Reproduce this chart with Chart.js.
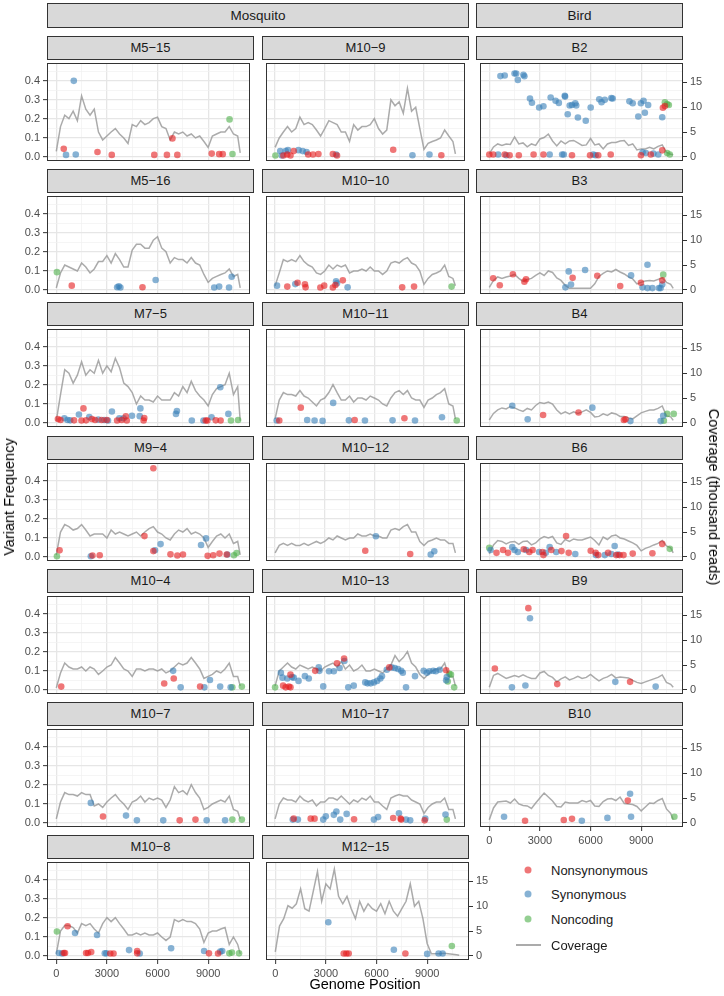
<!DOCTYPE html>
<html>
<head>
<meta charset="utf-8">
<script src="https://cdn.jsdelivr.net/npm/chart.js@4.4.0/dist/chart.umd.min.js"></script>
<style>
  html,body{margin:0;padding:0;background:#fff;}
  #root{position:relative;width:724px;height:996px;overflow:hidden;background:#fff;font-family:"Liberation Sans",Arial,Helvetica,sans-serif;}
  .strip{position:absolute;box-sizing:border-box;background:#d9d9d9;border:1px solid #333;color:#1a1a1a;font-size:13px;text-align:center;}
  .gstrip{font-size:13.5px;}
  .title{position:absolute;white-space:nowrap;color:#000;font-size:14.5px;}
  .leg{position:absolute;white-space:nowrap;color:#1a1a1a;font-size:13px;transform:translateY(-50%);}
  .dot{position:absolute;width:7px;height:7px;border-radius:50%;transform:translate(-50%,-50%);}
  canvas{position:absolute;}
</style>
</head>
<body>
<div id="root"></div>
<script>
// ---------------- DATA ----------------
// coverage sample positions (genome position)
const COV_POS = [0,250,500,750,1000,1250,1500,1750,2000,2250,2500,2750,3000,3250,3500,3750,4000,4250,4500,4750,5000,5250,5500,5750,6000,6250,6500,6750,7000,7250,7500,7750,8000,8250,8500,8750,9000,9250,9500,9750,10000,10250,10500,10750,10900];
// coverage (thousand reads) per sample
const COV_M5_15 = [1.1,6.1,8.4,7.7,9.2,7.3,12.3,9.6,8.4,9.6,5.0,3.4,4.2,5.0,5.7,4.6,3.8,2.7,6.5,6.1,7.3,6.5,6.9,7.7,8.0,6.1,5.7,3.4,5.0,4.6,5.0,4.2,4.6,3.8,4.2,3.1,1.9,4.2,4.6,5.0,5.0,6.1,4.6,4.2,0.8];
const COV_M5_16 = [0.4,3.4,5.0,4.6,4.2,3.8,5.4,4.6,3.4,4.2,5.7,5.7,6.9,5.4,7.3,6.1,4.6,4.6,8.0,9.2,9.2,8.4,8.4,10.0,10.7,8.4,7.7,5.4,6.5,6.1,6.1,5.4,6.5,5.4,5.0,3.1,1.5,2.3,2.7,3.1,3.4,4.2,2.7,3.1,0.4];
const COV_M7_5 = [0.4,5.7,10.7,10.0,8.0,9.6,12.3,9.6,10.7,10.0,12.6,10.0,11.5,10.3,13.0,11.1,8.0,7.3,6.1,3.8,5.4,4.6,4.6,4.2,5.4,4.6,4.6,4.6,6.1,5.4,7.3,6.1,8.4,6.5,5.4,4.6,3.4,5.7,6.9,7.3,7.7,10.0,5.7,7.3,0.4];
const COV_M9_4 = [0.4,5.0,6.5,6.1,5.4,5.7,6.5,5.4,4.2,4.6,4.6,4.6,3.8,5.4,4.6,5.0,4.6,4.2,4.6,5.0,4.2,5.0,5.7,6.1,5.0,4.6,3.8,3.4,4.6,5.4,5.0,5.7,4.6,5.0,4.6,3.8,1.9,3.1,4.2,4.6,3.8,4.6,2.7,3.1,0.4];
const COV_M10_4 = [0.4,3.4,5.4,4.6,4.2,4.2,4.6,3.8,4.6,4.2,3.1,3.8,4.6,5.0,6.5,5.4,4.2,3.8,2.7,4.2,4.2,3.8,4.2,4.2,3.8,4.2,3.4,3.8,4.6,5.4,5.0,5.4,6.5,5.4,4.2,2.3,2.7,3.1,3.8,3.4,4.2,5.4,2.7,2.7,0.8];
const COV_M10_7 = [0.8,4.2,6.1,5.7,5.7,5.4,6.1,5.7,5.7,3.4,3.8,3.1,4.2,5.0,5.7,4.6,3.8,2.7,4.2,4.6,5.4,4.2,5.0,4.6,5.0,4.6,3.1,4.6,7.3,6.1,6.5,5.7,7.7,6.1,5.0,2.7,3.1,3.8,4.2,4.6,4.2,5.4,2.7,2.3,0.8];
const COV_M10_8 = [0.4,5.0,6.1,6.1,5.7,4.6,6.5,6.1,6.5,5.4,4.6,6.5,7.7,6.9,7.7,6.5,5.4,4.2,4.2,4.6,4.2,4.6,4.2,4.2,4.6,3.8,3.1,3.8,7.3,6.9,7.3,6.9,6.9,6.5,5.4,2.7,4.6,5.0,5.0,5.4,5.7,2.3,3.8,2.3,0.4];
const COV_M10_9 = [1.9,3.8,5.0,6.1,5.0,5.7,8.0,6.5,6.9,6.5,5.4,4.2,5.7,7.3,6.9,6.5,5.0,5.0,3.1,6.5,5.4,6.1,6.1,6.5,7.7,5.7,4.6,5.4,11.5,10.3,11.1,8.8,13.8,9.2,10.0,5.7,1.5,2.7,3.1,3.4,3.8,5.4,4.2,3.1,0.6];
const COV_M10_10 = [0.8,3.4,6.1,5.7,6.1,5.7,6.9,5.7,5.0,4.6,3.4,3.1,3.8,5.0,4.2,5.0,4.6,5.0,3.4,3.8,3.8,4.2,3.8,4.6,3.8,3.8,3.1,3.8,5.4,5.7,5.4,6.1,6.5,5.4,5.0,3.8,1.1,2.3,3.1,3.4,3.8,5.0,2.7,2.3,0.8];
const COV_M10_11 = [0.8,4.6,6.1,5.7,5.7,5.4,6.5,5.4,5.0,4.2,3.4,4.6,5.0,6.1,7.7,6.1,4.6,4.6,5.4,4.2,5.0,5.0,4.6,5.4,5.0,4.6,3.8,3.4,5.0,6.1,6.5,5.7,6.5,5.0,4.6,4.6,3.1,4.6,5.0,5.7,6.1,6.9,3.8,3.4,0.8];
const COV_M10_12 = [0.8,2.3,2.7,2.3,2.7,2.3,2.3,2.7,2.3,2.7,3.1,2.7,3.1,3.8,3.4,4.2,3.8,3.4,3.8,3.8,4.6,4.2,4.2,4.6,4.2,4.2,3.8,3.8,5.4,5.7,5.4,6.1,6.5,5.0,5.0,3.1,2.3,3.1,3.4,3.8,3.4,3.4,2.7,2.7,0.8];
const COV_M10_13 = [0.8,3.8,4.6,5.4,4.6,4.2,5.0,4.6,4.2,4.6,4.2,3.8,4.6,5.0,5.4,4.6,5.7,4.2,5.0,3.8,4.2,5.0,3.8,3.8,4.2,3.8,3.4,4.2,5.0,6.9,5.7,6.5,7.7,5.4,4.6,3.1,2.3,3.1,3.8,4.2,4.2,5.4,2.7,2.7,0.8];
const COV_M10_17 = [0.8,3.8,5.0,4.6,4.6,4.2,5.4,4.6,4.2,4.6,3.4,4.2,4.2,5.0,5.0,4.6,5.4,4.6,3.8,4.6,4.2,5.0,4.6,5.4,4.2,4.2,3.4,2.7,5.0,5.4,5.7,5.4,5.4,4.6,4.2,3.8,1.9,3.1,3.8,4.2,4.2,5.0,2.7,2.7,0.8];
const COV_M12_15 = [0.8,6.0,7.5,10.1,9.6,10.5,13.5,9.5,9.0,13.0,17.0,11.0,14.5,13.5,17.5,12.0,10.5,12.0,9.5,7.5,11.0,9.0,10.5,9.5,9.0,10.5,8.5,11.0,9.0,8.0,9.5,11.0,14.5,10.0,11.0,7.5,2.5,0.4,0.4,0.4,0.5,0.4,0.3,0.2,0.1];
const COV_B2 = [0.6,2.0,2.6,2.3,2.6,2.5,4.0,2.6,2.8,2.0,2.6,2.3,3.6,3.9,4.6,3.2,2.2,3.2,2.6,3.2,3.3,2.8,2.3,2.4,3.7,2.4,2.6,1.6,2.6,2.9,2.9,3.2,3.3,2.3,2.6,1.4,1.6,1.6,1.9,1.6,2.1,2.4,0.9,0.5,0.4];
const COV_B3 = [0.5,1.9,2.6,2.3,2.6,2.8,3.1,2.3,1.7,2.1,2.3,2.9,3.4,2.9,3.8,3.5,2.4,1.9,0.9,0.3,0.3,0.3,0.3,0.3,0.3,1.2,2.7,3.3,3.8,3.6,4.1,3.6,3.2,2.6,2.2,1.2,1.5,1.8,1.9,1.8,2.1,2.4,1.5,1.1,0.3];
const COV_B4 = [0.6,1.9,2.6,3.0,2.8,3.3,3.0,2.6,2.3,2.9,2.6,3.5,4.1,3.9,4.2,3.8,2.6,1.8,2.2,1.8,2.2,1.9,2.2,2.6,2.1,1.2,1.3,1.8,1.5,2.0,1.8,1.3,1.3,1.0,0.8,1.4,2.0,2.3,2.6,2.6,2.9,3.4,1.4,1.2,0.5];
const COV_B6 = [0.6,2.4,3.3,3.1,2.6,3.0,3.1,2.5,3.1,3.2,2.4,2.8,3.6,4.1,3.8,4.1,2.8,2.5,3.5,3.1,3.6,3.4,3.4,3.7,4.0,3.3,2.4,4.0,3.5,4.2,4.4,3.8,3.6,3.2,2.8,2.3,1.2,1.7,2.0,2.4,2.7,3.3,2.2,1.8,0.8];
const COV_B9 = [0.5,2.9,3.3,2.8,2.3,2.6,2.9,2.6,3.0,2.6,2.3,2.3,3.4,3.7,2.9,2.5,1.6,2.2,2.6,2.0,2.3,2.7,2.3,2.5,3.1,2.4,1.8,2.3,2.6,3.1,2.4,2.6,2.5,2.4,1.9,1.5,1.3,1.6,1.9,2.2,2.5,3.0,1.5,1.1,0.5];
const COV_B10 = [0.6,3.0,4.2,4.3,4.4,4.0,4.8,3.8,3.5,3.4,2.9,4.0,5.0,6.0,5.2,4.4,3.3,3.2,4.2,4.0,4.0,4.0,4.5,4.2,4.5,3.4,3.3,4.3,4.8,4.9,4.5,5.2,3.9,3.8,3.7,3.3,2.4,3.2,4.0,3.9,4.5,4.9,2.8,1.9,0.6];

// variants: [genome position, variant frequency]  N = nonsynonymous, S = synonymous, C = noncoding
const N_M5_15 = [[442,0.042],[2442,0.025],[3288,0.01],[5808,0.01],[6557,0.01],[6884,0.097],[7173,0.01],[9211,0.017],[9654,0.014],[9865,0.014]];
const S_M5_15 = [[1038,0.40],[577,0.01],[1154,0.012]];
const C_M5_15 = [[10269,0.197],[10442,0.015]];

const N_M5_16 = [[917,0.022],[5109,0.0135]];
const S_M5_16 = [[3608,0.0135],[3705,0.019],[3800,0.012],[5889,0.052],[9360,0.012],[9653,0.017],[10238,0.012],[10394,0.069]];
const C_M5_16 = [[39,0.093]];

const N_M7_5 = [[96,0.02],[249,0.015],[1054,0.013],[1610,0.076],[1495,0.012],[1764,0.013],[2109,0.02],[2300,0.015],[2684,0.015],[2990,0.015],[3604,0.012],[3872,0.015],[4121,0.034],[4179,0.012],[5214,0.025],[5176,0.012],[8856,0.012],[8952,0.012],[9450,0.013],[9738,0.012]];
const S_M7_5 = [[479,0.024],[671,0.015],[824,0.013],[1342,0.044],[1955,0.03],[2492,0.017],[2837,0.015],[3067,0.012],[3297,0.06],[3738,0.024],[3987,0.024],[4486,0.037],[4984,0.076],[4946,0.035],[7093,0.047],[7150,0.062],[8032,0.012],[8722,0.012],[9201,0.029],[9719,0.187],[10198,0.047]];
const C_M7_5 = [[10351,0.012],[10773,0.015]];

const N_M9_4 = [[195,0.034],[2145,0.007],[2574,0.008],[5753,0.466],[5226,0.109],[5753,0.03],[6767,0.013],[7176,0.007],[7508,0.012],[8970,0.005],[9302,0.008],[9672,0.017],[10101,0.012]];
const S_M9_4 = [[2048,0.003],[5850,0.034],[6182,0.067],[8580,0.062],[8873,0.097],[10140,0.012]];
const C_M9_4 = [[39,0.003],[10530,0.008],[10686,0.02]];

const N_M10_4 = [[293,0.017],[6396,0.033],[6962,0.06],[8522,0.017]];
const S_M10_4 = [[6923,0.10],[7371,0.013],[8775,0.013],[9107,0.052],[9711,0.017],[10335,0.013]];
const C_M10_4 = [[10433,0.013],[10998,0.017]];

const N_M10_7 = [[2769,0.033],[7313,0.013],[8249,0.017]];
const S_M10_7 = [[2048,0.105],[4134,0.038],[4778,0.013],[6338,0.013],[8912,0.013],[10004,0.013]];
const C_M10_7 = [[10433,0.017],[10998,0.017]];

const N_M10_8 = [[441,0.015],[518,0.015],[671,0.156],[1764,0.015],[1879,0.015],[2070,0.02],[3201,0.012],[3393,0.012],[4793,0.025],[4793,0.013],[9048,0.013],[9585,0.012]];
const S_M10_8 = [[153,0.015],[345,0.012],[1112,0.12],[2415,0.11],[2875,0.013],[2971,0.013],[4313,0.03],[4946,0.012],[6805,0.04],[8760,0.025],[9719,0.022],[9834,0.025]];
const C_M10_8 = [[38,0.128],[10255,0.013],[10408,0.017],[10831,0.013]];

const N_M10_9 = [[504,0.007],[737,0.012],[930,0.007],[1125,0.03],[2000,0.012],[2290,0.012],[2620,0.015],[3490,0.015],[3744,0.007],[7140,0.037],[10049,0.008]];
const S_M10_9 = [[310,0.03],[407,0.007],[640,0.03],[776,0.035],[1416,0.035],[1668,0.03],[1900,0.025],[3686,0.012],[8303,0.008],[9331,0.012]];
const C_M10_9 = [[20,0.007]];

const N_M10_10 = [[737,0.017],[1358,0.037],[1804,0.029],[1843,0.013],[2735,0.012],[2968,0.022],[3492,0.012],[3647,0.025],[4093,0.05],[7682,0.013],[8400,0.017]];
const S_M10_10 = [[116,0.022],[1222,0.03],[3686,0.045],[3744,0.034],[4384,0.013]];
const C_M10_10 = [[10670,0.017]];

const N_M10_11 = [[252,0.012],[1552,0.08],[4811,0.015],[7818,0.024]];
const S_M10_11 = [[97,0.012],[1940,0.015],[2386,0.012],[2871,0.01],[3511,0.105],[4462,0.013],[5432,0.012],[7100,0.013],[8458,0.012],[10088,0.029]];
const C_M10_11 = [[10980,0.012]];

const N_M10_12 = [[5451,0.032],[8167,0.015]];
const S_M10_12 = [[6092,0.108],[9409,0.012],[9622,0.029]];
const C_M10_12 = [];

const N_M10_13 = [[485,0.022],[640,0.013],[834,0.017],[931,0.013],[931,0.08],[2425,0.10],[3744,0.14],[4171,0.165],[6906,0.118],[10340,0.103]];
const S_M10_13 = [[349,0.09],[446,0.064],[737,0.06],[1028,0.067],[1125,0.064],[1416,0.047],[1804,0.072],[2037,0.06],[2638,0.118],[2677,0.10],[2910,0.018],[3259,0.098],[3550,0.098],[3899,0.115],[4190,0.152],[4423,0.013],[4753,0.022],[5451,0.039],[5587,0.034],[5781,0.034],[5975,0.039],[6169,0.047],[6363,0.06],[6460,0.072],[6751,0.106],[7042,0.118],[7236,0.115],[7430,0.11],[7624,0.10],[7721,0.09],[7915,0.013],[8458,0.072],[8982,0.10],[9176,0.09],[9331,0.098],[9564,0.10],[9719,0.098],[9952,0.106],[10379,0.067],[10340,0.05]];
const C_M10_13 = [[0,0.013],[10437,0.044],[10534,0.084],[10631,0.08],[10825,0.013]];

const N_M10_17 = [[1125,0.022],[2153,0.022],[2386,0.022],[4772,0.019],[7139,0.025],[7585,0.022],[7624,0.017],[9040,0.013]];
const S_M10_17 = [[1067,0.017],[1377,0.017],[2910,0.017],[3065,0.034],[3550,0.042],[3705,0.06],[3938,0.017],[4326,0.047],[5975,0.017],[6227,0.03],[7488,0.05],[7915,0.017],[8167,0.013],[9079,0.022],[10301,0.044]];
const C_M10_17 = [[10379,0.017]];

const N_M12_15 = [[4056,0.012],[4212,0.012],[4350,0.012],[7710,0.012]];
const S_M12_15 = [[3143,0.177],[7027,0.032],[9000,0.01],[9680,0.012],[9916,0.012]];
const C_M12_15 = [[10463,0.052]];

const N_B2 = [[10289,0.258],[10406,0.267],[0,0.012],[233,0.012],[914,0.012],[1206,0.008],[1750,0.008],[2626,0.012],[3209,0.012],[4901,0.008],[5971,0.008],[6457,0.008],[7196,0.012],[8986,0.008],[9570,0.012],[10250,0.034]];
const S_B2 = [[661,0.425],[914,0.428],[1498,0.439],[1595,0.439],[1692,0.405],[2023,0.432],[2081,0.424],[2412,0.307],[2529,0.285],[2956,0.26],[3209,0.266],[3637,0.312],[3929,0.295],[4123,0.284],[4473,0.321],[4493,0.317],[4648,0.224],[4765,0.27],[4901,0.273],[5096,0.282],[5154,0.27],[5251,0.207],[5718,0.19],[6010,0.26],[6516,0.303],[6652,0.287],[6846,0.30],[7235,0.309],[7313,0.307],[8305,0.292],[8500,0.282],[8830,0.212],[8986,0.282],[9142,0.295],[9220,0.232],[9414,0.273],[10250,0.208],[525,0.012],[1011,0.008],[3579,0.012],[4318,0.012],[4415,0.012],[6166,0.012],[6302,0.008],[9083,0.024],[9278,0.02],[9725,0.017],[10016,0.012]];
const C_B2 = [[10406,0.287],[10542,0.278],[10640,0.273],[10542,0.02],[10698,0.012]];

const N_B3 = [[233,0.061],[622,0.024],[1400,0.082],[2081,0.043],[2178,0.056],[4940,0.063],[6399,0.074],[7760,0.02],[8986,0.037],[10250,0.05]];
const S_B3 = [[4512,0.013],[4707,0.097],[4843,0.028],[5679,0.104],[8402,0.076],[9083,0.013],[9375,0.009],[9667,0.009],[10056,0.009],[10153,0.009],[9375,0.132],[10250,0.028]];
const C_B3 = [[10308,0.08]];

const N_B4 = [[3190,0.041],[5290,0.054],[7975,0.015],[8072,0.019]];
const S_B4 = [[1362,0.09],[2276,0.019],[6107,0.08],[8363,0.009],[10153,0.009],[10308,0.037]];
const C_B4 = [[10347,0.011],[10542,0.047],[10931,0.047]];

const N_B6 = [[428,0.021],[817,0.036],[1109,0.021],[2042,0.04],[2373,0.025],[2567,0.036],[3151,0.025],[3209,0.009],[3676,0.036],[4279,0.03],[4551,0.11],[4707,0.021],[6010,0.032],[6302,0.021],[6457,0.009],[7041,0.021],[7528,0.009],[7721,0.009],[7955,0.009],[8500,0.017],[9667,0.019],[10250,0.068]];
const S_B6 = [[78,0.036],[1362,0.051],[1498,0.036],[1692,0.025],[2178,0.036],[2956,0.025],[3345,0.021],[3579,0.051],[3968,0.025],[5096,0.015],[6321,0.009],[6846,0.009],[7236,0.015],[7430,0.057],[7624,0.012]];
const C_B6 = [[0,0.047],[10698,0.042]];

const N_B9 = [[331,0.112],[2315,0.43],[4026,0.03],[8344,0.042]];
const S_B9 = [[1342,0.013],[2140,0.023],[2412,0.377],[7469,0.042],[9861,0.017]];
const C_B9 = [];

const N_B10 = [[2120,0.011],[4415,0.015],[4901,0.021],[8208,0.117]];
const S_B10 = [[875,0.032],[5485,0.011],[7002,0.026],[8344,0.153],[8402,0.032]];
const C_B10 = [[10970,0.032]];

// axis ticks
const X_TICKS = [0,1500,3000,4500,6000,7500,9000,10500];
const Y_TICKS = [0,0.05,0.1,0.15,0.2,0.25,0.3,0.35,0.4,0.45];
const Y2_TICKS = [0,5,10,15];
const GROUPS = ['Mosquito','Bird'];
const LEGEND_LABELS = ['Nonsynonymous','Synonymous','Noncoding','Coverage'];

// ---------------- LAYOUT / STYLE ----------------
const X_MIN = -550, X_MAX = 11480;
const Y_MIN = -0.022, Y_MAX = 0.494;
const K = 38.3; // thousand reads per unit of variant frequency (secondary axis)
const COL_L = [47, 262, 476];
const ROW_T = [59, 192, 325, 459, 592, 725, 858];
const PW = 207, PH = 102;
const RED = 'rgba(228,26,28,0.6)', BLUE = 'rgba(55,126,184,0.6)', GREEN = 'rgba(77,175,74,0.6)';
const COV_COLOR = 'rgba(150,150,150,0.8)';
const FONT = '"Liberation Sans", Arial, Helvetica, sans-serif';

const PANELS = [
  {name:'M5\u221215', col:0,row:0, cov:COV_M5_15, n:N_M5_15, s:S_M5_15, c:C_M5_15},
  {name:'M5\u221216', col:0,row:1, cov:COV_M5_16, n:N_M5_16, s:S_M5_16, c:C_M5_16},
  {name:'M7\u22125', col:0,row:2, cov:COV_M7_5, n:N_M7_5, s:S_M7_5, c:C_M7_5},
  {name:'M9\u22124', col:0,row:3, cov:COV_M9_4, n:N_M9_4, s:S_M9_4, c:C_M9_4},
  {name:'M10\u22124', col:0,row:4, cov:COV_M10_4, n:N_M10_4, s:S_M10_4, c:C_M10_4},
  {name:'M10\u22127', col:0,row:5, cov:COV_M10_7, n:N_M10_7, s:S_M10_7, c:C_M10_7},
  {name:'M10\u22128', col:0,row:6, cov:COV_M10_8, n:N_M10_8, s:S_M10_8, c:C_M10_8, bottom:true},
  {name:'M10\u22129', col:1,row:0, cov:COV_M10_9, n:N_M10_9, s:S_M10_9, c:C_M10_9},
  {name:'M10\u221210', col:1,row:1, cov:COV_M10_10, n:N_M10_10, s:S_M10_10, c:C_M10_10},
  {name:'M10\u221211', col:1,row:2, cov:COV_M10_11, n:N_M10_11, s:S_M10_11, c:C_M10_11},
  {name:'M10\u221212', col:1,row:3, cov:COV_M10_12, n:N_M10_12, s:S_M10_12, c:C_M10_12},
  {name:'M10\u221213', col:1,row:4, cov:COV_M10_13, n:N_M10_13, s:S_M10_13, c:C_M10_13},
  {name:'M10\u221217', col:1,row:5, cov:COV_M10_17, n:N_M10_17, s:S_M10_17, c:C_M10_17},
  {name:'M12\u221215', col:1,row:6, cov:COV_M12_15, n:N_M12_15, s:S_M12_15, c:C_M12_15, bottom:true, right:true},
  {name:'B2', col:2,row:0, cov:COV_B2, n:N_B2, s:S_B2, c:C_B2, right:true},
  {name:'B3', col:2,row:1, cov:COV_B3, n:N_B3, s:S_B3, c:C_B3, right:true},
  {name:'B4', col:2,row:2, cov:COV_B4, n:N_B4, s:S_B4, c:C_B4, right:true},
  {name:'B6', col:2,row:3, cov:COV_B6, n:N_B6, s:S_B6, c:C_B6, right:true},
  {name:'B9', col:2,row:4, cov:COV_B9, n:N_B9, s:S_B9, c:C_B9, right:true},
  {name:'B10', col:2,row:5, cov:COV_B10, n:N_B10, s:S_B10, c:C_B10, right:true, bottom:true}
];

const root = document.getElementById('root');
function addDiv(cls, css, text){
  const d = document.createElement('div');
  d.className = cls; d.style.cssText = css;
  if (text !== undefined) d.textContent = text;
  root.appendChild(d); return d;
}

// group strips
addDiv('strip gstrip', `left:${COL_L[0]}px;top:3px;width:${COL_L[1]+PW-COL_L[0]}px;height:25px;line-height:23px;`, GROUPS[0]);
addDiv('strip gstrip', `left:${COL_L[2]}px;top:3px;width:${PW}px;height:25px;line-height:23px;`, GROUPS[1]);

const framePlugin = {
  id: 'frame',
  afterDraw(chart){
    const a = chart.chartArea, ctx = chart.ctx;
    ctx.save();
    ctx.strokeStyle = '#333'; ctx.lineWidth = 1;
    ctx.strokeRect(a.left + 0.5, a.top + 0.5, a.right - a.left - 1, a.bottom - a.top - 1);
    ctx.restore();
  }
};

const isMajX = v => v % 3000 === 0;
const isMajY = v => Math.round(v * 100) % 10 === 0;
const pts = arr => arr.map(p => ({x: p[0], y: p[1]}));

function makePanel(p){
  const L = COL_L[p.col], T = ROW_T[p.row];
  const showL = p.col === 0, showR = !!p.right, showB = !!p.bottom;
  const lm = showL ? 47 : 0, rm = showR ? 42 : 0, bm = showB ? 26 : 6;
  // strip
  addDiv('strip', `left:${L}px;top:${T-23}px;width:${PW}px;height:24px;line-height:22px;`, p.name);
  const cv = document.createElement('canvas');
  const cw = lm + PW + rm, ch = PH + bm;
  cv.width = cw; cv.height = ch;
  cv.style.cssText = `left:${L-lm}px;top:${T}px;width:${cw}px;height:${ch}px;`;
  root.appendChild(cv);
  const covData = COV_POS.map((x, i) => ({x, y: p.cov[i]}));
  new Chart(cv, {
    type: 'scatter',
    data: { datasets: [
      {label:'Nonsynonymous', data: pts(p.n), yAxisID:'y', backgroundColor: RED, borderWidth:0, pointRadius:3.3, order:1},
      {label:'Synonymous', data: pts(p.s), yAxisID:'y', backgroundColor: BLUE, borderWidth:0, pointRadius:3.3, order:1},
      {label:'Noncoding', data: pts(p.c), yAxisID:'y', backgroundColor: GREEN, borderWidth:0, pointRadius:3.3, order:1},
      {label:'Coverage', data: covData, yAxisID:'y2', showLine:true, borderColor: COV_COLOR, borderWidth:1.5, pointRadius:0, tension:0, order:5}
    ]},
    options: {
      responsive:false, animation:false, devicePixelRatio:1, events:[],
      layout:{padding:0},
      plugins:{legend:{display:false}, tooltip:{enabled:false}},
      scales:{
        x:{
          type:'linear', min:X_MIN, max:X_MAX,
          afterBuildTicks: s => { s.ticks = X_TICKS.map(v => ({value:v})); },
          afterFit: s => { s.height = bm; s.paddingLeft = 0; s.paddingRight = 0; },
          border:{display:false},
          grid:{
            color: c => isMajX(c.tick.value) ? '#e6e6e6' : '#f1f1f1',
            lineWidth: c => isMajX(c.tick.value) ? 1.3 : 0.7,
            drawTicks: showB, tickLength: 4, tickWidth: 1,
            tickColor: c => isMajX(c.tick.value) ? '#333' : 'rgba(0,0,0,0)'
          },
          ticks:{display: showB, autoSkip:false, maxRotation:0, padding:3, color:'#4d4d4d',
                 font:{family:FONT, size:11}, callback: v => isMajX(v) ? String(v) : ''}
        },
        y:{
          type:'linear', position:'left', min:Y_MIN, max:Y_MAX,
          afterBuildTicks: s => { s.ticks = Y_TICKS.map(v => ({value:v})); },
          afterFit: s => { s.width = lm; s.paddingTop = 0; s.paddingBottom = 0; },
          border:{display:false},
          grid:{
            color: c => isMajY(c.tick.value) ? '#e6e6e6' : '#f1f1f1',
            lineWidth: c => isMajY(c.tick.value) ? 1.3 : 0.7,
            drawTicks: showL, tickLength: 4, tickWidth: 1,
            tickColor: c => isMajY(c.tick.value) ? '#333' : 'rgba(0,0,0,0)'
          },
          ticks:{display: showL, autoSkip:false, padding:3, color:'#4d4d4d',
                 font:{family:FONT, size:11}, callback: v => isMajY(v) ? v.toFixed(1) : ''}
        },
        y2:{
          type:'linear', position:'right', display: showR, min: Y_MIN*K, max: Y_MAX*K,
          afterBuildTicks: s => { s.ticks = Y2_TICKS.map(v => ({value:v})); },
          afterFit: s => { s.width = rm; s.paddingTop = 0; s.paddingBottom = 0; },
          border:{display:false},
          grid:{drawOnChartArea:false, drawTicks:true, tickLength:4, tickWidth:1, tickColor:'#333'},
          ticks:{autoSkip:false, padding:3, color:'#4d4d4d', font:{family:FONT, size:11},
                 callback: v => String(v)}
        }
      }
    },
    plugins:[framePlugin]
  });
}
PANELS.forEach(makePanel);

// axis titles
addDiv('title', 'left:9px;top:497px;transform:translate(-50%,-50%) rotate(-90deg);', 'Variant Frequency');
addDiv('title', 'left:714px;top:497px;transform:translate(-50%,-50%) rotate(90deg);', 'Coverage (thousand reads)');
addDiv('title', 'left:365px;top:984px;transform:translate(-50%,-50%);', 'Genome Position');

// legend
const LEG_Y = [870, 894, 919, 945];
const LEG_COL = [RED, BLUE, GREEN];
for (let i = 0; i < 3; i++) {
  addDiv('dot', `left:528px;top:${LEG_Y[i]}px;background:${LEG_COL[i]};`);
}
addDiv('', `position:absolute;left:516px;top:${LEG_Y[3]-1}px;width:25px;height:2px;background:${COV_COLOR};`);
for (let i = 0; i < 4; i++) {
  addDiv('leg', `left:551px;top:${LEG_Y[i]}px;`, LEGEND_LABELS[i]);
}
</script>
</body>
</html>
